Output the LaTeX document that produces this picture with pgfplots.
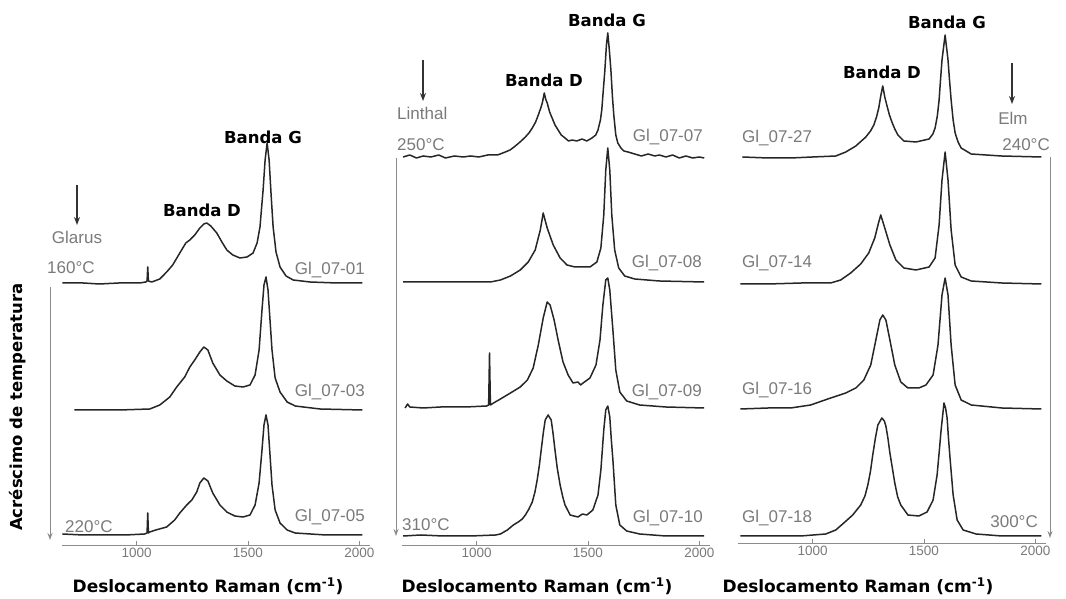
\documentclass[border=0pt]{standalone}
\usepackage{fontspec}
\setmainfont{Liberation Sans}
\newfontfamily\heavy{DejaVu Sans}
\usepackage{pgfplots}
\pgfplotsset{compat=1.18}
\usetikzlibrary{arrows.meta}

\definecolor{spec}{HTML}{262626}
\definecolor{lbl}{HTML}{7A7A7A}
\definecolor{axl}{HTML}{8C8C8C}

\newcommand\lblfont{\fontsize{17}{19}\selectfont}
\newcommand\tickfont{\fontsize{13.5}{15}\selectfont}
\newcommand\bandfont{\heavy\bfseries\fontsize{16.5}{18}\selectfont}
\newcommand\xlabfont{\heavy\bfseries\fontsize{17}{19}\selectfont}

\pgfplotsset{
  raman/.style={
    scale only axis, width=308pt, height=545pt,
    xmin=665, xmax=2048, ymin=0, ymax=545,
    axis x line*=bottom, axis y line=none,
    clip=false,
    xtick={1000,1500,2000},
    tick align=inside, major tick length=4pt,
    x axis line style={axl, line width=0.9pt, -},
    tick style={axl, line width=0.9pt},
    xticklabel style={font=\tickfont, text=lbl},
    /pgf/number format/1000 sep={},
    /pgf/number format/assume math mode=true,
    cycle list={{spec, line width=1.5pt, line join=round, mark=none}},
    every axis plot post/.append style={spec, line width=1.5pt, line join=round, mark=none},
    anchor=south west,
  },
}
\tikzset{
  lab/.style={font=\lblfont, text=lbl, inner sep=0pt},
  tarrow/.style={axl, line width=1pt, -{Stealth[length=7pt, width=5pt]}},
  sarrow/.style={black!80, line width=1.2pt, -{Stealth[length=8pt, width=6pt]}},
}

\begin{document}
\begin{tikzpicture}
\useasboundingbox (0,0) rectangle (1066pt,599pt);

% ---------------- Glarus ----------------
\begin{axis}[raman, at={(62pt,54pt)}]
% Gl_07-01
\addplot coordinates {(667,262)(760,262)(833,261)(920,262)(1014,262)(1041,263)(1047,264)(1050,278)(1053,264)(1068,263)(1104,266)(1135,273)(1162,280)(1194,292)(1221,302)(1239,305)(1261,310)(1284,317)(1302,321)(1315,322)(1333,319)(1360,312)(1383,303)(1405,295)(1432,290)(1464,287)(1496,288)(1523,292)(1541,302)(1554,318)(1568,355)(1577,385)(1586,402)(1595,385)(1604,350)(1613,318)(1626,293)(1644,278)(1671,269)(1703,265)(1779,263)(1900,262)(2014,262)};
% Gl_07-03
\addplot coordinates {(721,135)(820,135)(923,135)(1059,136)(1104,140)(1149,148)(1180,158)(1216,168)(1239,178)(1261,185)(1284,193)(1302,198)(1320,195)(1342,182)(1374,170)(1405,164)(1441,159)(1478,158)(1509,160)(1532,170)(1550,195)(1563,235)(1572,260)(1581,268)(1590,255)(1599,225)(1608,195)(1622,167)(1644,153)(1676,143)(1712,139)(1824,136)(2014,135)};
% Gl_07-05
\addplot coordinates {(667,11)(760,10)(833,10)(950,10)(1036,11)(1047,12)(1050,32)(1053,12)(1059,13)(1086,15)(1135,18)(1171,25)(1194,32)(1225,40)(1248,45)(1270,53)(1284,62)(1302,67)(1320,64)(1342,52)(1374,40)(1405,33)(1441,29)(1478,28)(1509,30)(1532,40)(1550,62)(1563,95)(1572,120)(1581,130)(1590,120)(1599,90)(1608,60)(1622,35)(1644,22)(1676,15)(1712,12)(1850,10)(2014,10)};
\end{axis}

% ---------------- Linthal ----------------
\begin{axis}[raman, at={(402pt,54pt)}]
% Gl_07-07
\addplot coordinates {(670,388)(700,390)(730,387)(760,389)(795,388)(830,390)(860,387)(900,389)(940,388)(973,389)(1010,388)(1050,390)(1094,390)(1129,393)(1150,395)(1174,399)(1200,404)(1219,408)(1235,412)(1250,417)(1265,423)(1277,430)(1288,437)(1295,442)(1304,452)(1310,446)(1317,442)(1328,433)(1339,427)(1352,420)(1366,415)(1380,410)(1397,407)(1413,404)(1429,405)(1450,404)(1473,406)(1495,404)(1518,407)(1535,410)(1545,415)(1556,425)(1562,435)(1570,458)(1576,475)(1583,500)(1589,512)(1596,495)(1603,475)(1610,448)(1616,430)(1625,410)(1634,402)(1648,397)(1661,394)(1680,393)(1710,391)(1740,389)(1770,391)(1800,389)(1821,390)(1850,388)(1880,390)(1910,387)(1940,389)(1970,387)(2000,388)(2022,387)};
% Gl_07-08
\addplot coordinates {(670,263)(800,263)(950,263)(1062,263)(1107,265)(1152,269)(1196,275)(1232,283)(1263,295)(1286,315)(1299,332)(1317,317)(1344,300)(1375,287)(1406,280)(1442,278)(1509,278)(1540,283)(1558,297)(1571,330)(1580,375)(1589,397)(1598,375)(1607,330)(1620,295)(1638,277)(1665,269)(1710,266)(1821,264)(2022,263)};
% Gl_07-09
\addplot coordinates {(679,137)(690,141)(700,138)(760,137)(839,138)(950,138)(1045,139)(1054,140)(1058,192)(1062,140)(1076,142)(1107,146)(1152,152)(1196,158)(1228,165)(1254,177)(1277,200)(1299,227)(1317,243)(1330,240)(1348,225)(1366,205)(1388,183)(1411,170)(1433,162)(1455,163)(1467,160)(1478,162)(1509,167)(1536,180)(1554,205)(1567,240)(1580,265)(1589,267)(1598,255)(1612,215)(1625,175)(1643,153)(1674,144)(1732,140)(1850,138)(2022,137)};
% Gl_07-10
\addplot coordinates {(670,9)(750,10)(850,9)(973,9)(1085,10)(1107,11)(1138,15)(1165,20)(1187,23)(1205,26)(1219,30)(1235,36)(1250,43)(1262,53)(1272,65)(1282,80)(1290,95)(1300,113)(1308,125)(1321,130)(1335,125)(1343,112)(1352,95)(1362,77)(1375,60)(1387,48)(1397,40)(1420,30)(1455,28)(1475,31)(1495,30)(1522,35)(1545,50)(1558,75)(1571,115)(1580,135)(1589,139)(1598,128)(1605,105)(1612,85)(1625,40)(1643,20)(1674,14)(1732,11)(1850,9)(2022,9)};
\end{axis}

% ---------------- Elm ----------------
\begin{axis}[raman, at={(738pt,56pt)}]
% Gl_07-27
\addplot coordinates {(685,386)(800,385)(901,385)(1000,386)(1104,387)(1149,391)(1194,397)(1239,406)(1260,412)(1275,418)(1287,426)(1297,435)(1306,447)(1315,457)(1324,446)(1333,438)(1345,428)(1356,421)(1369,414)(1383,408)(1410,402)(1464,401)(1523,404)(1540,409)(1550,415)(1560,427)(1568,443)(1575,465)(1581,483)(1595,508)(1608,483)(1614,465)(1622,443)(1631,423)(1640,410)(1653,401)(1667,395)(1712,389)(1847,387)(2027,386)};
% Gl_07-14
\addplot coordinates {(676,259)(800,259)(950,260)(1081,260)(1126,263)(1171,270)(1216,279)(1252,290)(1279,305)(1297,321)(1306,328)(1324,315)(1347,298)(1374,283)(1410,275)(1464,273)(1523,276)(1550,285)(1568,318)(1581,363)(1595,391)(1608,363)(1622,313)(1640,278)(1667,266)(1712,262)(1850,260)(2027,259)};
% Gl_07-16
\addplot coordinates {(676,134)(800,135)(901,135)(991,138)(1081,145)(1149,150)(1194,155)(1230,163)(1261,178)(1284,203)(1302,223)(1315,228)(1329,223)(1347,203)(1369,178)(1396,161)(1428,155)(1477,155)(1509,158)(1541,168)(1563,198)(1581,248)(1595,265)(1608,248)(1622,198)(1640,158)(1667,143)(1712,138)(1850,135)(2027,134)};
% Gl_07-18
\addplot coordinates {(676,7)(800,7)(946,7)(1059,9)(1104,13)(1140,20)(1180,28)(1216,38)(1235,47)(1248,58)(1260,72)(1270,88)(1282,105)(1293,118)(1311,125)(1322,122)(1329,117)(1338,105)(1347,90)(1358,75)(1369,60)(1382,46)(1396,38)(1428,28)(1477,27)(1514,31)(1541,43)(1559,68)(1570,95)(1577,113)(1590,140)(1597,135)(1604,125)(1610,105)(1617,85)(1631,48)(1649,23)(1676,13)(1734,9)(1850,7)(2027,7)};
\end{axis}

% annotations, placed in page units measured from the top-left corner
\begin{scope}[x=1pt, y=-1pt, shift={(0pt,599pt)}]
% Glarus
\node[font=\bandfont] at (263,137) {Banda G};
\node[font=\bandfont] at (202,210) {Banda D};
\draw[sarrow] (77,185) -- (77,225);
\node[lab] at (77,237) {Glarus};
\node[lab, anchor=west] at (47,268) {160°C};
\draw[tarrow] (50,287) -- (50,540);
\node[lab, anchor=west] at (65,527) {220°C};
\node[lab, anchor=east] at (365,270) {Gl\_07-01};
\node[lab, anchor=east] at (365,392) {Gl\_07-03};
\node[lab, anchor=east] at (365,517) {Gl\_07-05};
\node[font=\bandfont, rotate=90] at (18,407) {Acréscimo de temperatura};
\node[font=\xlabfont] at (208,586) {Deslocamento Raman (cm\textsuperscript{-1})};
% Linthal
\node[font=\bandfont] at (607,20) {Banda G};
\node[font=\bandfont] at (544,80) {Banda D};
\draw[sarrow] (423,60) -- (423,101);
\node[lab, anchor=west] at (397,113) {Linthal};
\node[lab, anchor=west] at (397,145) {250°C};
\draw[tarrow] (396,158) -- (396,536);
\node[lab, anchor=west] at (402,525) {310°C};
\node[lab, anchor=east] at (703,137) {Gl\_07-07};
\node[lab, anchor=east] at (702,263) {Gl\_07-08};
\node[lab, anchor=east] at (702,392) {Gl\_07-09};
\node[lab, anchor=east] at (703,518) {Gl\_07-10};
\node[font=\xlabfont] at (537,586) {Deslocamento Raman (cm\textsuperscript{-1})};
% Elm
\node[font=\bandfont] at (947,22) {Banda G};
\node[font=\bandfont] at (882,72) {Banda D};
\draw[sarrow] (1012,63) -- (1012,104);
\node[lab] at (1013,118) {Elm};
\node[lab, anchor=east] at (1050,145) {240°C};
\draw[tarrow] (1050,157) -- (1050,538);
\node[lab, anchor=east] at (1038,522) {300°C};
\node[lab, anchor=west] at (742,138) {Gl\_07-27};
\node[lab, anchor=west] at (742,263) {Gl\_07-14};
\node[lab, anchor=west] at (742,390) {Gl\_07-16};
\node[lab, anchor=west] at (742,518) {Gl\_07-18};
\node[font=\xlabfont] at (858,586) {Deslocamento Raman (cm\textsuperscript{-1})};
\end{scope}
\end{tikzpicture}
\end{document}
